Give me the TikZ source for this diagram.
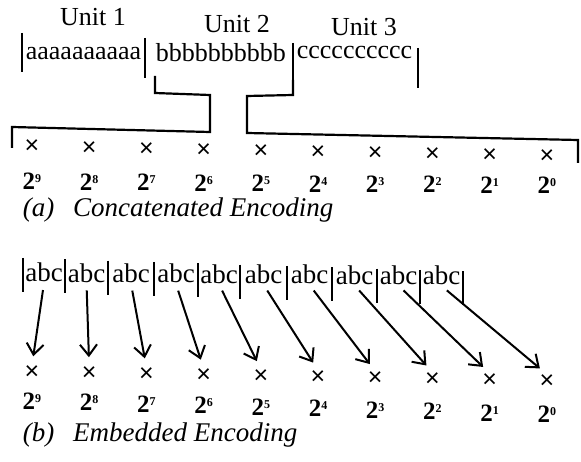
\documentclass[tikz,border=0pt]{standalone}
\usepackage{fontspec}
\setmainfont{Liberation Serif}
\newfontfamily\crossfont{Liberation Sans}
\usepackage{tikz}
\usetikzlibrary{arrows.meta}

\newcommand{\weightlabel}[1]{2\raisebox{7pt}{\fontsize{12}{12}\selectfont #1}}

\begin{document}
\begin{tikzpicture}[x=1pt, y=-1pt, line width=1.7pt,
    unitlabel/.style={font=\fontsize{26}{26}\selectfont, inner sep=0pt},
    bits/.style={font=\fontsize{26}{26}\selectfont, inner sep=0pt, anchor=base west},
    chunk/.style={font=\fontsize{27}{27}\selectfont, inner sep=0pt, anchor=base},
    crossmark/.style={font=\crossfont\fontsize{25}{25}\selectfont, inner sep=0pt},
    weight/.style={font=\bfseries\fontsize{25}{25}\selectfont, inner sep=0pt, anchor=base},
    caption/.style={font=\itshape\fontsize{27}{27}\selectfont, inner sep=0pt, anchor=base west},
    bracket/.style={line width=2.2pt},
    embed/.style={line width=2pt, -{Straight Barb[length=11pt,width=17pt]}, shorten <=7pt, shorten >=9pt}]

    \useasboundingbox (0,0) rectangle (581,462);

    \node[unitlabel] (unit1) at (93,17) {Unit 1};
    \node[unitlabel] (unit2) at (237,24) {Unit 2};
    \node[unitlabel] (unit3) at (364,27) {Unit 3};

    \node[bits] (stra) at (25,60) {aaaaaaaaaa};
    \node[bits] (strb) at (155,62) {bbbbbbbbbb};
    \node[bits] (strc) at (296,59) {cccccccccc};
    \draw (22,33) -- (22,72);
    \draw (145,38) -- (145,78);
    \draw (293,43) -- (293,80) coordinate (splitr);
    \draw (418,48) -- (418,88);
    \coordinate (splitl) at (155,76);
    \coordinate (footl) at (12,148);
    \coordinate (footr) at (578,163);
    \draw[bracket] (splitl) -- (155,93) -- (210,95) -- (210,132) -- (12,127) -- (footl);
    \draw[bracket] (splitr) -- (293,95) -- (247,96) -- (247,133) -- (578,140) -- (footr);

    \foreach \i/\e in {0/9,1/8,2/7,3/6,4/5,5/4,6/3,7/2,8/1,9/0} {
        \pgfmathsetmacro{\px}{32+57.2*\i}
        \node[crossmark] (xa\i) at (\px,{147+0.019*(\px-32)}) {×};
        \node[weight] (pa\i) at (\px,{190+0.007*(\px-32)}) {\weightlabel{\e}};
        \node[crossmark] (xb\i) at (\px,{373+0.0175*(\px-32)}) {×};
        \node[weight] (pb\i) at (\px,{409+0.027*(\px-32)}) {\weightlabel{\e}};
    }
    \node[caption] (capa) at (22,217) {(a)\hspace{0.7em}Concatenated Encoding};

    \foreach \bx in {23,65,108,154,198,240,287,332,377,420,463}
        \draw (\bx,{258+0.03*(\bx-23)}) -- (\bx,{292+0.03*(\bx-23)});
    \foreach \i/\cx in {0/44,1/86.5,2/131,3/176,4/219,5/263.5,6/309.5,7/354.5,8/398.5,9/441.5} {
        \node[chunk] (abc\i) at (\cx,{282+0.007*(\cx-44)}) {abc};
        \draw[embed] (abc\i.south) -- (xb\i.north);
    }
    \node[caption] (capb) at (22,441) {(b)\hspace{0.7em}Embedded Encoding};
\end{tikzpicture}
\end{document}
